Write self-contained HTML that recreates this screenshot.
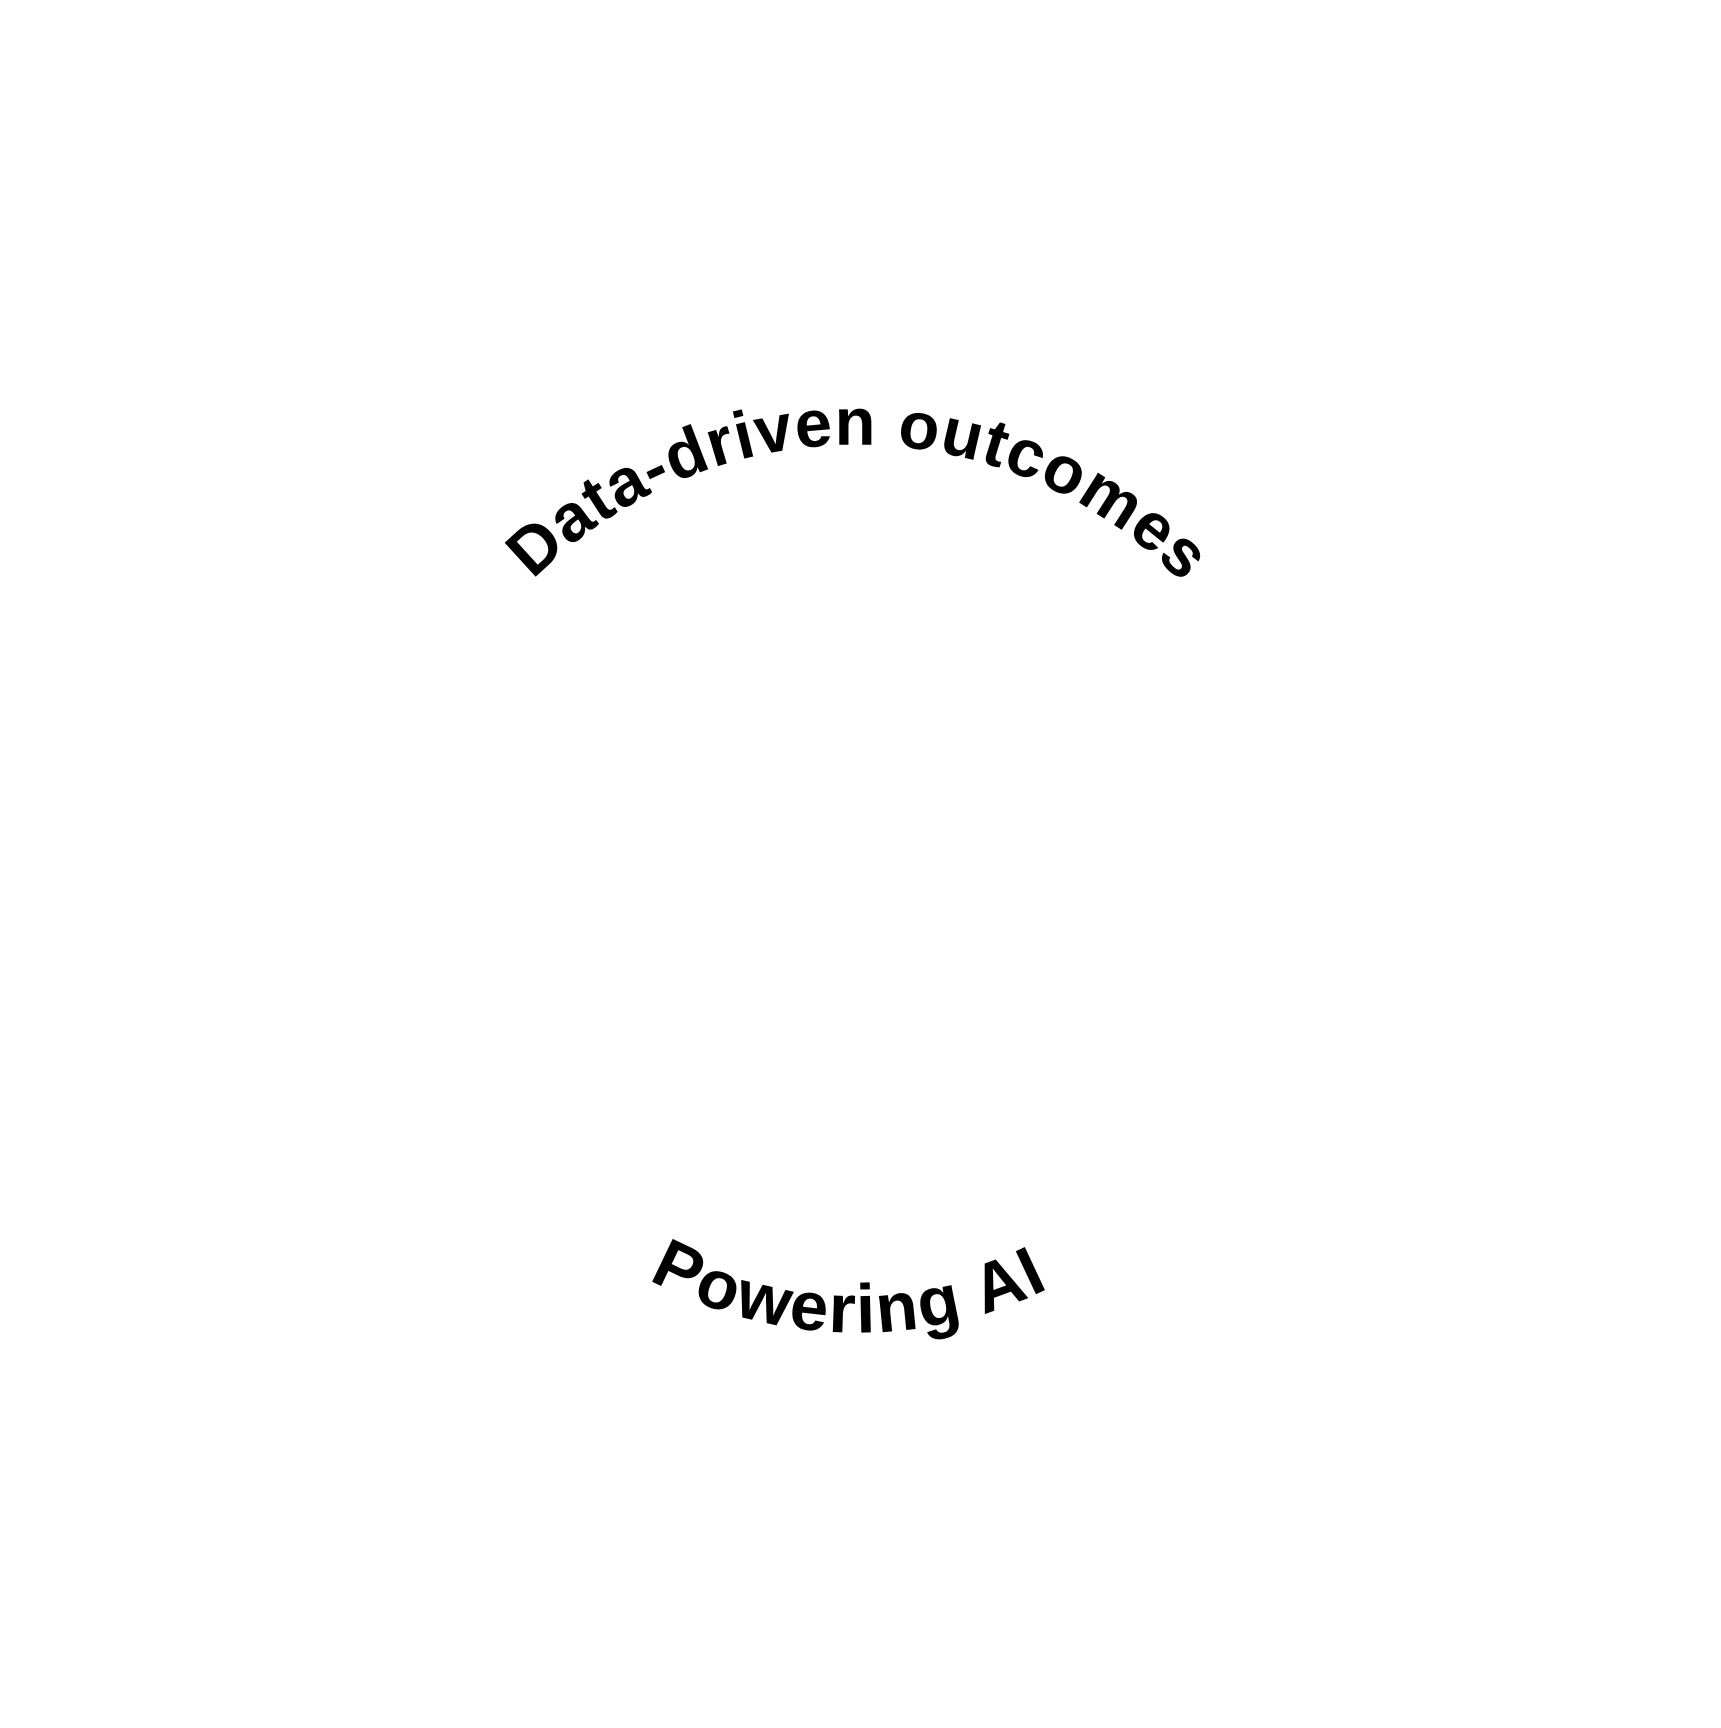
<!DOCTYPE html>
<html><head><meta charset="utf-8"><style>html,body{margin:0;padding:0;background:#fff;}svg{display:block}</style></head>
<body>
<svg width="1721" height="1728" viewBox="0 0 1568 1574" xmlns="http://www.w3.org/2000/svg">
<defs>
<path id="top" d="M 367 818 A 413 413 0 0 1 1193 818"/>
<path id="bot" d="M 385 818 A 396 396 0 0 0 1177 818"/>
</defs>
<rect width="1568" height="1574" fill="#fff"/>
<text font-family="Liberation Sans, Arial, sans-serif" font-weight="bold" font-size="61" fill="#000" text-anchor="middle" letter-spacing="1">
<textPath href="#top" startOffset="651">Data-driven outcomes</textPath></text>
<text font-family="Liberation Sans, Arial, sans-serif" font-weight="bold" font-size="63" fill="#000" text-anchor="middle" letter-spacing="1.8">
<textPath href="#bot" startOffset="614">Powering AI</textPath></text>
</svg>
</body></html>
